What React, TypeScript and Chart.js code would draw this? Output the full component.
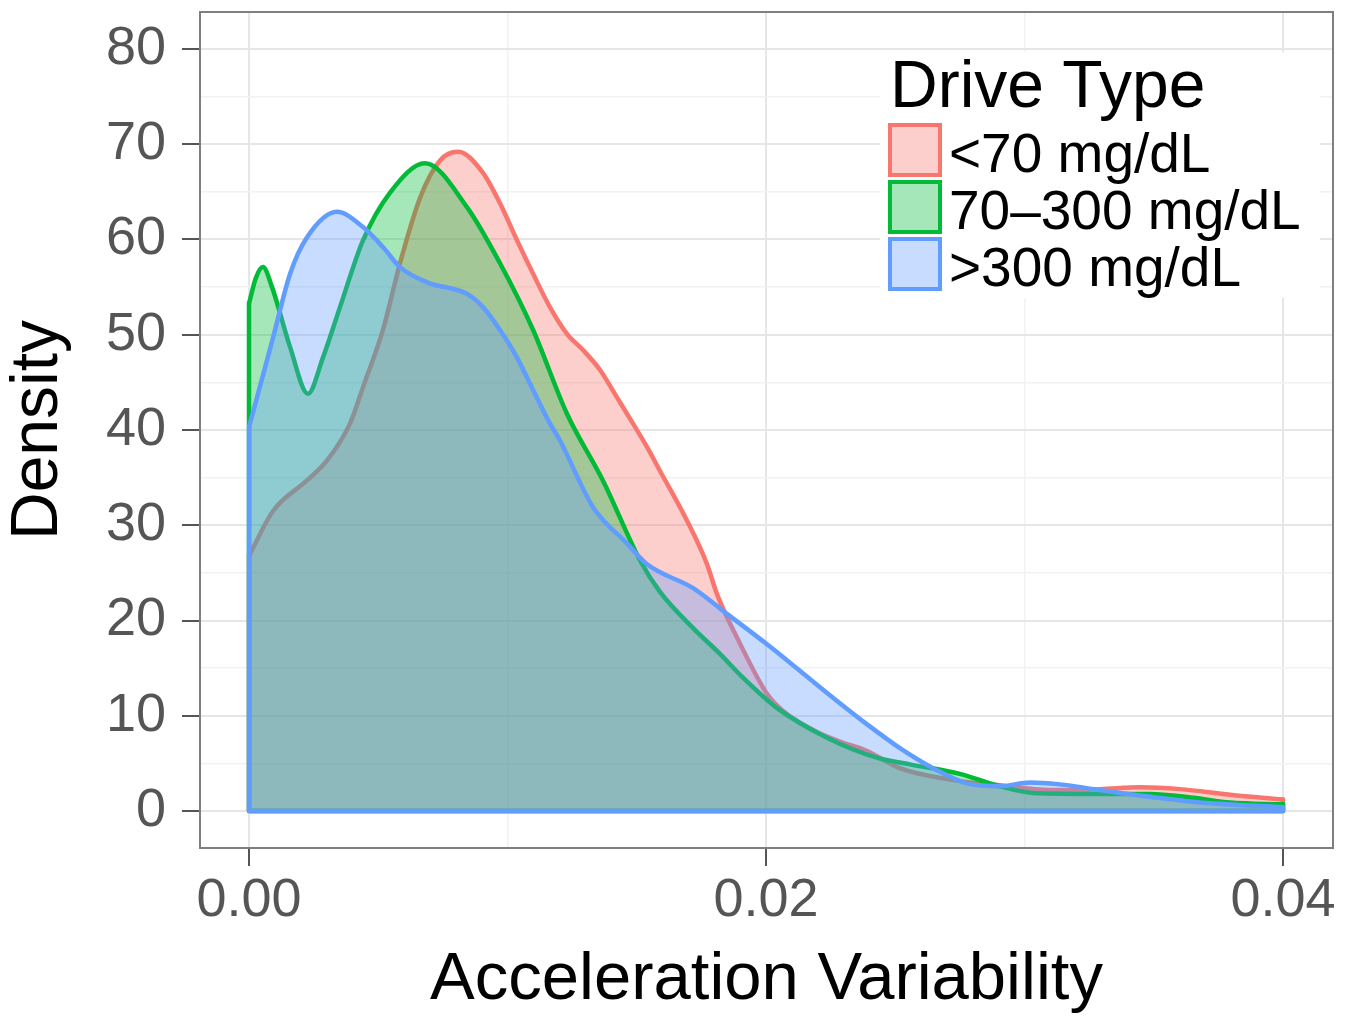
import React, { useEffect, useRef } from 'react';
import { Chart, registerables } from 'chart.js';

Chart.register(...registerables);

// ---- Data ----
const SERIES_NAMES = ['<70 mg/dL', '70–300 mg/dL', '>300 mg/dL'];
const SERIES_COLORS = ['#F8766D', '#00BA38', '#619CFF'];

const RED_X = [0, 0.00093, 0.00224, 0.00302, 0.00391, 0.00441, 0.00518, 0.00584, 0.00662, 0.00739, 0.00809, 0.00905, 0.00971, 0.01037, 0.01099, 0.01164, 0.0123, 0.01292, 0.01358, 0.01424, 0.01485, 0.0154, 0.0159, 0.01694, 0.01772, 0.0181, 0.01899, 0.02004, 0.02066, 0.02197, 0.02286, 0.02391, 0.02518, 0.02712, 0.02905, 0.03099, 0.03292, 0.03447, 0.03602, 0.03795, 0.04];
const RED_Y = [26.8, 31.5, 34.7, 36.8, 40.7, 44.5, 50.5, 57.5, 64.4, 68.3, 69.2, 67.0, 63.8, 59.9, 56.4, 52.9, 50.1, 48.4, 46.3, 43.4, 40.7, 38.2, 35.7, 30.5, 25.9, 22.8, 17.6, 12.3, 10.5, 8.3, 7.3, 6.3, 4.5, 3.3, 2.7, 2.2, 2.3, 2.5, 2.3, 1.7, 1.2];

const GREEN_X = [0, 0.00027, 0.00054, 0.00089, 0.00159, 0.00228, 0.00286, 0.00352, 0.00441, 0.00545, 0.00681, 0.00843, 0.00971, 0.01099, 0.0123, 0.01369, 0.01513, 0.0159, 0.01718, 0.01822, 0.01911, 0.02043, 0.02236, 0.02429, 0.02557, 0.0275, 0.02905, 0.03033, 0.03292, 0.03485, 0.03652, 0.03795, 0.04];
const GREEN_Y = [53.3, 56.0, 57.1, 55.0, 48.7, 43.8, 47.6, 52.9, 59.9, 64.9, 68.0, 63.4, 57.5, 50.5, 41.7, 34.7, 26.3, 23.0, 19.2, 16.5, 14.0, 10.8, 7.7, 5.6, 4.9, 3.9, 2.6, 1.9, 1.8, 1.8, 1.4, 0.9, 0.7];

const BLUE_X = [0, 0.00093, 0.00159, 0.00224, 0.0034, 0.00441, 0.00518, 0.00584, 0.00689, 0.00843, 0.00905, 0.00971, 0.01037, 0.01099, 0.01164, 0.01203, 0.01331, 0.01462, 0.0154, 0.01718, 0.01849, 0.02004, 0.02132, 0.02259, 0.02391, 0.02518, 0.02646, 0.02778, 0.02905, 0.03021, 0.03137, 0.03292, 0.03485, 0.03679, 0.04];
const BLUE_Y = [40.3, 49.7, 56.4, 60.2, 62.9, 61.3, 59.2, 57.1, 55.5, 54.3, 52.9, 50.5, 47.6, 44.2, 40.7, 38.9, 31.9, 28.1, 25.9, 23.4, 20.7, 17.5, 14.7, 11.9, 9.1, 6.6, 4.5, 2.9, 2.6, 3.0, 2.8, 2.2, 1.5, 0.9, 0.4];

const X_TICKS = [0, 0.01, 0.02, 0.03, 0.04];
const X_TICK_LABELS = ['0.00', '', '0.02', '', '0.04'];
const Y_TICKS = [0, 5, 10, 15, 20, 25, 30, 35, 40, 45, 50, 55, 60, 65, 70, 75, 80];
const Y_TICK_LABELS = ['0', '', '10', '', '20', '', '30', '', '40', '', '50', '', '60', '', '70', '', '80'];

const X_MIN = -0.001896;
const X_MAX = 0.041934;
const Y_MIN = -3.88;
const Y_MAX = 83.88;

const FONT = '"Liberation Sans", Arial, Helvetica, sans-serif';
const FILL_ALPHA = 0.35;

function rgba(hex: string, a: number) {
  const n = parseInt(hex.slice(1), 16);
  return `rgba(${(n >> 16) & 255},${(n >> 8) & 255},${n & 255},${a})`;
}

const SERIES_XS = [RED_X, GREEN_X, BLUE_X];
const SERIES_YS = [RED_Y, GREEN_Y, BLUE_Y];

const panelPlugin = {
  id: 'panelBorder',
  afterDatasetsDraw(chart: any) {
    const { ctx, chartArea } = chart;
    ctx.save();
    ctx.strokeStyle = '#7f7f7f';
    ctx.lineWidth = 2;
    ctx.strokeRect(chartArea.left, chartArea.top, chartArea.right - chartArea.left, chartArea.bottom - chartArea.top);
    ctx.restore();
  },
};

const legendPlugin = {
  id: 'ggLegend',
  afterDraw(chart: any) {
    const { ctx } = chart;
    ctx.save();
    ctx.fillStyle = '#ffffff';
    ctx.fillRect(880, 52, 440, 246);
    ctx.fillStyle = '#000000';
    ctx.font = `66px ${FONT}`;
    ctx.textBaseline = 'alphabetic';
    ctx.textAlign = 'left';
    ctx.fillText('Drive Type', 890, 107);
    ctx.font = `55px ${FONT}`;
    SERIES_NAMES.forEach((name, i) => {
      const top = 125 + i * 57;
      ctx.fillStyle = '#ffffff';
      ctx.fillRect(890, top, 50, 50);
      ctx.fillStyle = rgba(SERIES_COLORS[i], FILL_ALPHA);
      ctx.fillRect(890, top, 50, 50);
      ctx.strokeStyle = SERIES_COLORS[i];
      ctx.lineWidth = 4;
      ctx.strokeRect(890, top, 50, 50);
      ctx.fillStyle = '#000000';
      ctx.fillText(name, 949, top + 47);
    });
    ctx.restore();
  },
};

export default function App() {
  const canvasRef = useRef<HTMLCanvasElement | null>(null);

  useEffect(() => {
    document.body.style.margin = '0';
    document.body.style.overflow = 'hidden';
    const canvas = canvasRef.current;
    if (!canvas) return;

    const datasets: any[] = [];
    SERIES_NAMES.forEach((name, i) => {
      const xs = SERIES_XS[i];
      const ys = SERIES_YS[i];
      const n = xs.length;
      const color = SERIES_COLORS[i];
      datasets.push({
        label: name,
        data: xs.map((x, k) => ({ x, y: ys[k] })),
        borderColor: color,
        backgroundColor: rgba(color, FILL_ALPHA),
        borderWidth: 4.5,
        fill: 'origin',
        pointRadius: 0,
        cubicInterpolationMode: 'monotone',
        borderJoinStyle: 'round',
        borderCapStyle: 'round',
        order: 10 - i * 2,
      });
      datasets.push({
        label: name + ' outline',
        data: [
          { x: xs[0], y: ys[0] },
          { x: xs[0], y: 0 },
          { x: xs[n - 1], y: 0 },
          { x: xs[n - 1], y: ys[n - 1] },
        ],
        borderColor: color,
        borderWidth: 4.5,
        fill: false,
        pointRadius: 0,
        tension: 0,
        borderJoinStyle: 'round',
        borderCapStyle: 'round',
        order: 9 - i * 2,
      });
    });

    const chart = new Chart(canvas, {
      type: 'line',
      data: { datasets },
      options: {
        responsive: false,
        animation: false,
        devicePixelRatio: 1,
        layout: { padding: { left: 0, right: 20, top: 12, bottom: 0 } },
        plugins: {
          legend: { display: false },
          tooltip: { enabled: false },
        },
        scales: {
          x: {
            type: 'linear',
            min: X_MIN,
            max: X_MAX,
            afterBuildTicks: (scale: any) => {
              scale.ticks = X_TICKS.map((v) => ({ value: v }));
            },
            afterFit: (scale: any) => {
              scale.height = 169;
              scale.paddingLeft = 0;
              scale.paddingRight = 0;
            },
            border: { display: false },
            grid: {
              color: (c: any) => (c.index % 2 === 0 ? '#e6e6e6' : '#f2f2f2'),
              lineWidth: (c: any) => (c.index % 2 === 0 ? 2 : 1.5),
              tickColor: (c: any) => (c.index % 2 === 0 ? '#555555' : 'rgba(0,0,0,0)'),
              tickWidth: 2,
              tickLength: 18,
            },
            ticks: {
              autoSkip: false,
              maxRotation: 0,
              padding: 3,
              color: '#555555',
              font: { family: FONT, size: 54 },
              callback: (_v: any, i: number) => X_TICK_LABELS[i],
            },
            title: {
              display: true,
              text: 'Acceleration Variability',
              color: '#000000',
              font: { family: FONT, size: 67, lineHeight: 1 },
              padding: { top: 0, bottom: 3 },
            },
          },
          y: {
            type: 'linear',
            min: Y_MIN,
            max: Y_MAX,
            afterBuildTicks: (scale: any) => {
              scale.ticks = Y_TICKS.map((v) => ({ value: v }));
            },
            afterFit: (scale: any) => {
              scale.width = 200;
              scale.paddingTop = 0;
              scale.paddingBottom = 0;
            },
            border: { display: false },
            grid: {
              color: (c: any) => (c.index % 2 === 0 ? '#e6e6e6' : '#f2f2f2'),
              lineWidth: (c: any) => (c.index % 2 === 0 ? 2 : 1.5),
              tickColor: (c: any) => (c.index % 2 === 0 ? '#555555' : 'rgba(0,0,0,0)'),
              tickWidth: 2,
              tickLength: 18,
            },
            ticks: {
              autoSkip: false,
              padding: 16,
              color: '#555555',
              font: { family: FONT, size: 54 },
              callback: (_v: any, i: number) => Y_TICK_LABELS[i],
            },
            title: {
              display: true,
              text: 'Density',
              color: '#000000',
              font: { family: FONT, size: 66, lineHeight: 1 },
              padding: { top: 6, bottom: 0 },
            },
          },
        },
      },
      plugins: [panelPlugin, legendPlugin],
    } as any);

    return () => chart.destroy();
  }, []);

  return (
    <div style={{ width: 1353, height: 1017, background: '#ffffff' }}>
      <canvas ref={canvasRef} width={1353} height={1017} style={{ display: 'block' }} />
    </div>
  );
}
